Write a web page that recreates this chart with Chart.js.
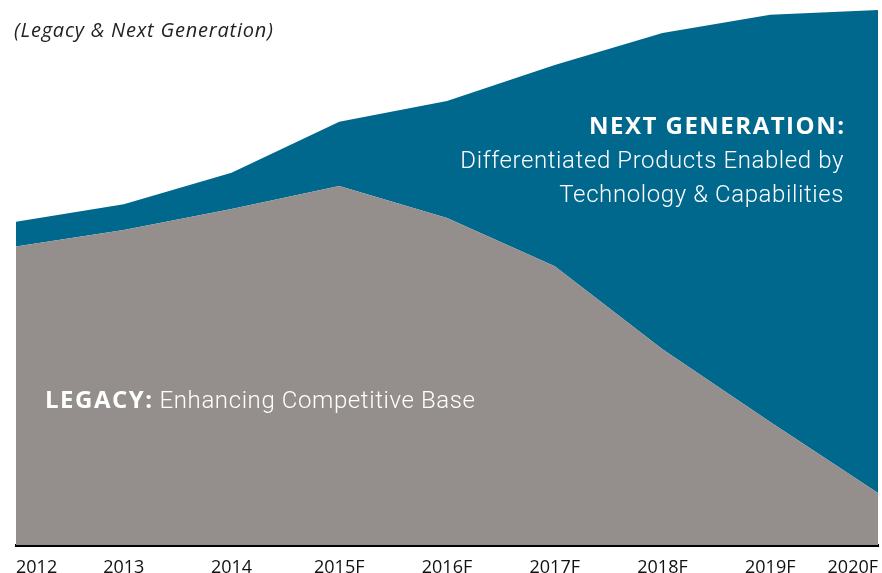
<!DOCTYPE html>
<html>
<head>
<meta charset="utf-8">
<script src="https://cdn.jsdelivr.net/npm/chart.js@4"></script>
<style>
  html, body { margin: 0; padding: 0; background: #fff; overflow: hidden; }
  #wrap { position: relative; width: 882px; height: 590px; }
  .note { position: absolute; color: #fff; white-space: nowrap; }
  .bold { font-family: "Open Sans", sans-serif; font-weight: 700; letter-spacing: 1.5px; }
  .light { font-family: Roboto, sans-serif; font-weight: 300; letter-spacing: 0.6px; }
  #titulo { position: absolute; left: 14px; top: 16px; font-family: "Open Sans", sans-serif;
            font-style: italic; font-size: 20px; letter-spacing: 0.8px; color: #222; }
</style>
</head>
<body>
<div id="wrap">
  <canvas id="grafico" width="882" height="590"></canvas>
  <div id="titulo">(Legacy &amp; Next Generation)</div>
  <div class="note" style="right:38px; top:108px; text-align:right; font-size:24px; line-height:34px;">
    <span class="bold" style="margin-right:-1.5px">NEXT GENERATION:</span><br>
    <span class="light">Differentiated Products Enabled by</span><br>
    <span class="light">Technology &amp; Capabilities</span>
  </div>
  <div class="note" style="left:45px; top:383px; font-size:24px; line-height:32px;">
    <span class="bold">LEGACY:</span> <span class="light">Enhancing Competitive Base</span>
  </div>
</div>
<script>
    // Anos (F = previsão)
    var anos = ['2012', '2013', '2014', '2015F', '2016F', '2017F', '2018F', '2019F', '2020F'];

    // valores (escala relativa, topo = 100)
    var legacy = [55.8, 58.9, 62.8, 67.1, 61.1, 52.1, 36.6, 23.0, 9.7];
    var nextGen = [4.6, 4.8, 6.8, 12.0, 21.9, 37.6, 59.1, 76.1, 90.3];

    const ctx = document.getElementById('grafico').getContext('2d');

    window.areaChart = new Chart(ctx, {
        type: 'line',
        data: {
            labels: anos,
            datasets: [{
                label: 'Legacy',
                data: legacy,
                fill: 'origin',
                backgroundColor: '#948f8c',
                borderWidth: 0,
                pointRadius: 0,
                tension: 0
            }, {
                label: 'Next Generation',
                data: nextGen,
                fill: '-1',
                backgroundColor: '#00688d',
                borderWidth: 0,
                pointRadius: 0,
                tension: 0
            }]
        },
        options: {
            responsive: false,
            animation: false,
            layout: {
                padding: { left: 16, right: 3, top: 10, bottom: 0 }
            },
            plugins: {
                legend: { display: false },
                tooltip: { enabled: false }
            },
            scales: {
                x: {
                    offset: false,
                    grid: { display: false },
                    border: { display: true, color: '#000', width: 3 },
                    ticks: {
                        align: 'inner',
                        color: '#111',
                        padding: 4,
                        maxRotation: 0,
                        autoSkip: false,
                        font: { family: 'Open Sans', size: 18 }
                    },
                    afterFit: function(s) { s.height = 45; }
                },
                y: {
                    display: false,
                    stacked: true,
                    min: 0,
                    max: 100
                }
            }
        }
    });
</script>
</body>
</html>
